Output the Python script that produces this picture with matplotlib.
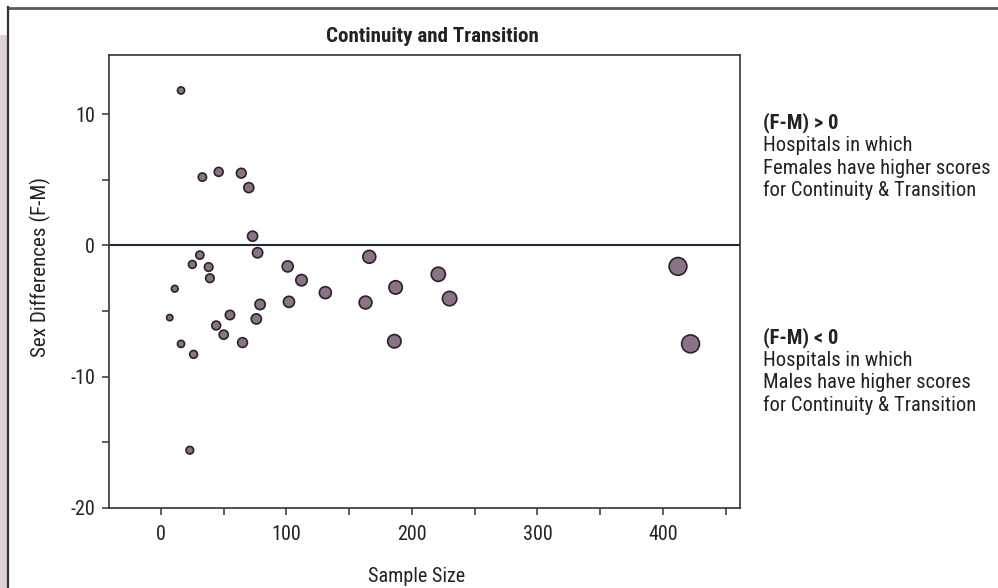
import matplotlib.pyplot as plt
import matplotlib.patches as mpatches
from matplotlib.lines import Line2D
from matplotlib import font_manager
import numpy as np

# pick a narrow family if one is installed
names = {f.name for f in font_manager.fontManager.ttflist}
family = 'DejaVu Sans'
for cand in ['Liberation Sans Narrow', 'Roboto Condensed', 'Open Sans Condensed', 'Liberation Sans']:
    if cand in names:
        family = cand
        break
plt.rcParams['font.family'] = [family, 'DejaVu Sans']
plt.rcParams['axes.unicode_minus'] = False

# sample size per hospital and sex difference (F-M)
sample_size = [16, 33, 46, 64, 70, 73, 77, 31, 25, 38, 39, 11, 7, 16, 26,
               44, 50, 55, 65, 76, 79, 101, 112, 102, 131, 166, 163, 187,
               186, 23, 221, 230, 412, 422]
sex_diff = [11.8, 5.2, 5.6, 5.5, 4.4, 0.7, -0.56, -0.74, -1.45, -1.65, -2.5,
            -3.3, -5.5, -7.5, -8.3, -6.1, -6.8, -5.3, -7.4, -5.6, -4.5, -1.6,
            -2.65, -4.3, -3.6, -0.87, -4.35, -3.2, -7.3, -15.6, -2.2, -4.05,
            -1.6, -7.5]

title = "Continuity and Transition"
xlabel = "Sample Size"
ylabel = "Sex Differences (F-M)"
pos_head = "(F-M) > 0"
pos_lines = ["Hospitals in which", "Females have higher scores", "for Continuity & Transition"]
neg_head = "(F-M) < 0"
neg_lines = ["Hospitals in which", "Males have higher scores", "for Continuity & Transition"]

W, H = 998, 588
fig = plt.figure(figsize=(W / 100, H / 100), dpi=100)
renderer = fig.canvas.get_renderer()

def fx(px):
    return px / W

def fy(py):
    return 1 - py / H

def fit(text, width_px, base=14, **kw):
    probe = fig.text(0, 0, text, fontsize=base, **kw)
    w = probe.get_window_extent(renderer).width
    probe.remove()
    return base * width_px / w

fs = 14.5

# outer frame and left strip
fig.patches.append(mpatches.Rectangle((0, 0), fx(7), fy(35), transform=fig.transFigure,
                                      facecolor='#ddd3d9', edgecolor='none'))
fig.lines.append(Line2D([fx(8), 1], [fy(7.5), fy(7.5)], transform=fig.transFigure,
                        color='#5a5a5a', lw=2))
fig.lines.append(Line2D([fx(8), fx(8)], [fy(7), 0], transform=fig.transFigure,
                        color='#333333', lw=1.6))

ax = fig.add_axes([fx(109), fy(508), fx(740) - fx(109), fy(55) - fy(508)])

n = np.array(sample_size)
d_px = 4.5 + 0.65 * np.sqrt(n)
sizes = (d_px * 0.72) ** 2

ax.axhline(0, color='#1c2a3c', lw=1.5, zorder=1)
ax.scatter(sample_size, sex_diff, s=sizes, facecolor='#8a7288', edgecolor='#2a2226',
           linewidth=1.2, zorder=3)

ax.set_xlim(-41.4, 461.4)
ax.set_ylim(-20, 14.5)
ax.set_xticks([0, 100, 200, 300, 400])
ax.set_xticks([50, 150, 250, 350, 450], minor=True)
ax.set_yticks([-20, -10, 0, 10])
ax.set_yticks([-15, -5, 5], minor=True)
ax.tick_params(which='both', direction='out', length=5, width=1.1, color='#333333',
               labelsize=fs, labelcolor='#222222')
ax.tick_params(axis='x', pad=7)
ax.tick_params(axis='y', pad=5)
for sp in ax.spines.values():
    sp.set_color('#333333')
    sp.set_linewidth(1.2)

fig.text(fx(432), fy(36), title, ha='center', va='center',
         fontsize=fit(title, 214, fontweight='bold'), fontweight='bold', color='#222222')
fig.text(fx(417), fy(577), xlabel, ha='center', va='center', fontsize=fs, color='#222222')
fig.text(fx(40), fy(267), ylabel, ha='center', va='center', rotation=90,
         fontsize=fit(ylabel, 180), color='#222222')

note_fs = fit(pos_lines[2], 214)

def block(head, lines, y0, step=22.5):
    fig.text(fx(763), fy(y0), head, ha='left', va='center', fontsize=note_fs,
             fontweight='bold', color='#222222')
    for i, t in enumerate(lines):
        fig.text(fx(763), fy(y0 + step * (i + 1)), t, ha='left', va='center',
                 fontsize=note_fs, color='#222222')

block(pos_head, pos_lines, 123)
block(neg_head, neg_lines, 338)

fig.savefig('out.png', dpi=100)
